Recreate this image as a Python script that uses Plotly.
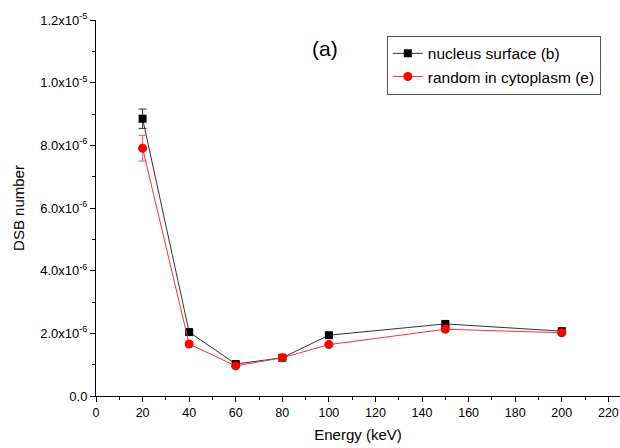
import plotly.graph_objects as go

energy = [20, 40, 60, 80, 100, 150, 200]
nucleus = [8.85e-6, 2.04e-6, 1.02e-6, 1.22e-6, 1.94e-6, 2.30e-6, 2.07e-6]
nucleus_err = [0.31e-6, 0.06e-6, 0.04e-6, 0.04e-6, 0.05e-6, 0.06e-6, 0.05e-6]
cytoplasm = [7.91e-6, 1.66e-6, 0.96e-6, 1.22e-6, 1.64e-6, 2.13e-6, 2.02e-6]
cytoplasm_err = [0.41e-6, 0.05e-6, 0.04e-6, 0.04e-6, 0.05e-6, 0.06e-6, 0.05e-6]

ytick_vals = [0, 2e-6, 4e-6, 6e-6, 8e-6, 1e-5, 1.2e-5]
ytick_text = ["0.0", "2.0x10<sup>-6</sup>", "4.0x10<sup>-6</sup>", "6.0x10<sup>-6</sup>",
              "8.0x10<sup>-6</sup>", "1.0x10<sup>-5</sup>", "1.2x10<sup>-5</sup>"]
xtick_vals = list(range(0, 221, 20))

fig = go.Figure()
fig.add_trace(go.Scatter(
    x=energy, y=nucleus, name="nucleus surface (b)", mode="lines+markers",
    line=dict(color="#333333", width=1),
    marker=dict(symbol="square", size=8, color="black"),
    error_y=dict(type="data", array=nucleus_err, color="#333333", thickness=1, width=4),
))
fig.add_trace(go.Scatter(
    x=energy, y=cytoplasm, name="random in cytoplasm (e)", mode="lines+markers",
    line=dict(color="#ff3030", width=1),
    marker=dict(symbol="circle", size=9, color="red"),
    error_y=dict(type="data", array=cytoplasm_err, color="#ff5050", thickness=1, width=4),
))

fig.add_annotation(x=0.437, y=0.925, xref="paper", yref="paper", text="(a)",
                   xanchor="center", yanchor="middle",
                   showarrow=False, font=dict(size=21, color="black"))

fig.update_layout(
    width=620, height=448,
    margin=dict(l=96, r=0, t=20, b=52),
    paper_bgcolor="white", plot_bgcolor="white",
    font=dict(family="Liberation Sans, Arial, sans-serif", color="black"),
    showlegend=True,
    legend=dict(x=0.555, y=0.958, xanchor="left", yanchor="top",
                bordercolor="#555555", borderwidth=1, bgcolor="white",
                font=dict(size=15.5), tracegroupgap=0, itemwidth=30),
    xaxis=dict(range=[0, 225], tickvals=xtick_vals, showgrid=False, zeroline=False,
               automargin=False,
               showline=True, linecolor="black", linewidth=1,
               ticks="outside", ticklen=5, tickcolor="black",
               minor=dict(ticks="outside", ticklen=3, dtick=10, tick0=0, tickcolor="black"),
               tickfont=dict(size=12.5),
               title=dict(text="Energy (keV)", font=dict(size=15), standoff=10)),
    yaxis=dict(range=[0, 1.2e-5], tickvals=ytick_vals, ticktext=ytick_text, showgrid=False,
               automargin=False,
               zeroline=False, showline=True, linecolor="black", linewidth=1,
               ticks="outside", ticklen=5, tickcolor="black",
               minor=dict(ticks="outside", ticklen=3, dtick=1e-6, tick0=0, tickcolor="black"),
               tickfont=dict(size=13),
               title=dict(text="DSB number", font=dict(size=15), standoff=12)),
)

fig.write_html("out.html", config={"displayModeBar": False})

# remove the browser's default 8px body margin so the figure sits at the page corner
with open("out.html", "r", encoding="utf-8") as f:
    html = f.read()
html = html.replace("<body>", '<body style="margin:0;padding:0;">', 1)
with open("out.html", "w", encoding="utf-8") as f:
    f.write(html)
